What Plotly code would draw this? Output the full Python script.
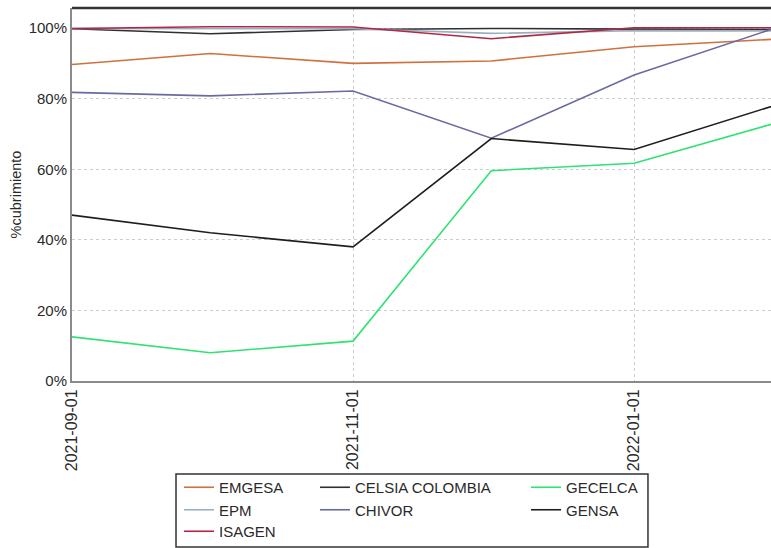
import plotly.graph_objects as go

# Monthly coverage (%) per generator
fechas = ["2021-09-01", "2021-10-01", "2021-11-01", "2021-12-01", "2022-01-01", "2022-02-01"]

emgesa = [89.7, 92.8, 90.0, 90.7, 94.7, 96.9]
celsia = [99.8, 98.4, 99.6, 99.9, 99.7, 99.6]
gecelca = [12.5, 8.0, 11.3, 59.6, 61.7, 73.2]
epm = [99.9, 99.9, 99.8, 98.5, 99.3, 99.2]
chivor = [81.8, 80.8, 82.2, 68.8, 86.7, 100.2]
gensa = [47.0, 42.0, 38.0, 68.7, 65.6, 78.3]
isagen = [99.9, 100.4, 100.3, 97.0, 100.1, 100.1]

tick_fechas = ["2021-09-01", "2021-11-01", "2022-01-01"]
y_ticks = [0, 20, 40, 60, 80, 100]
y_labels = ["0%", "20%", "40%", "60%", "80%", "100%"]

# legend slot per series: the three columns, last row of column one kept separate
series = [
    ("EMGESA", emgesa, "#d0703f", "legend"),
    ("CELSIA COLOMBIA", celsia, "#303030", "legend2"),
    ("GECELCA", gecelca, "#2fe272", "legend3"),
    ("EPM", epm, "#9ab0c0", "legend"),
    ("CHIVOR", chivor, "#6a6aa2", "legend2"),
    ("GENSA", gensa, "#1e1e1e", "legend3"),
    ("ISAGEN", isagen, "#b02848", "legend4"),
]

fig = go.Figure()
for nombre, valores, color, leg in series:
    fig.add_trace(go.Scatter(
        x=fechas, y=valores, name=nombre, mode="lines",
        line=dict(color=color, width=1.6), legend=leg,
    ))

font_txt = dict(family="Liberation Sans, Arial, sans-serif", size=15, color="#2a2a2a")
leg_common = dict(orientation="v", xanchor="left", yanchor="top",
                  bgcolor="rgba(0,0,0,0)", borderwidth=0, font=font_txt,
                  tracegroupgap=0)

fig.update_layout(
    width=771, height=548,
    margin=dict(l=72, r=0, t=8, b=167),
    paper_bgcolor="white", plot_bgcolor="white",
    font=font_txt,
    showlegend=True,
    legend=dict(x=0.1531, y=-0.2413, **leg_common),
    legend2=dict(x=0.3476, y=-0.2413, **leg_common),
    legend3=dict(x=0.6495, y=-0.2413, **leg_common),
    legend4=dict(x=0.1531, y=-0.3600, **leg_common),
    xaxis=dict(
        type="date", automargin=False,
        range=["2021-09-01", "2022-01-30 17:00"],
        tickvals=tick_fechas, ticktext=tick_fechas,
        tickangle=-90, tickfont=dict(size=16),
        showgrid=True, gridcolor="#cccccc", griddash="3px,3px", gridwidth=1,
        showline=True, linecolor="#8a8a8a", linewidth=2,
        ticks="", zeroline=False,
    ),
    yaxis=dict(
        automargin=False,
        range=[0, 105.7],
        tickvals=y_ticks, ticktext=y_labels,
        tickfont=dict(size=15),
        title=dict(text="%cubrimiento", font=dict(size=14.5), standoff=4),
        showgrid=True, gridcolor="#cccccc", griddash="3px,3px", gridwidth=1,
        showline=True, linecolor="#8a8a8a", linewidth=2,
        ticks="", zeroline=False,
    ),
    shapes=[
        # top frame line of the plotting area
        dict(type="line", xref="paper", yref="paper", x0=0, x1=1, y0=1, y1=1,
             line=dict(color="#333333", width=2.5)),
        # frame around the legend columns
        dict(type="rect", xref="paper", yref="paper",
             x0=0.1488, x1=0.824, y0=-0.2493, y1=-0.445,
             line=dict(color="#333333", width=1.5)),
    ],
)

fig.write_html("out.html")
